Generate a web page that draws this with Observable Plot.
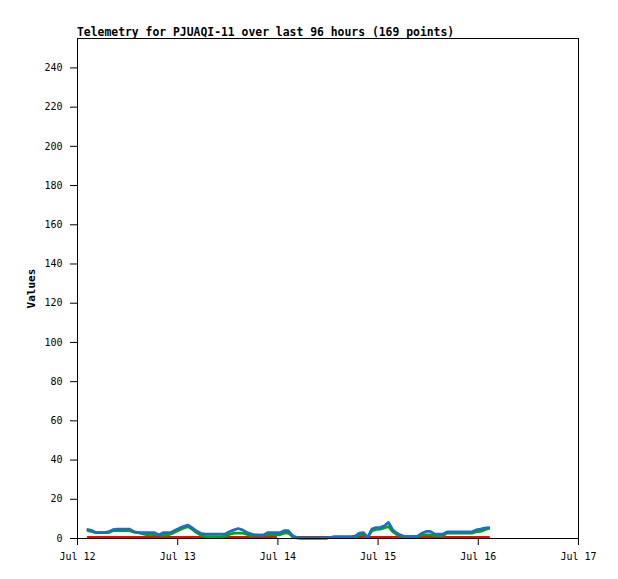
<!DOCTYPE html>
<html><head><meta charset="utf-8">
<script src="https://cdn.jsdelivr.net/npm/d3@7"></script>
<script src="https://cdn.jsdelivr.net/npm/@observablehq/plot@0.6"></script>
<style>
body{margin:0;background:#fff;}
#wrap{position:relative;width:618px;height:579px;}
#title{position:absolute;left:77px;top:27px;font:bold 11.4px "DejaVu Sans Mono",monospace;line-height:1;white-space:pre;color:#000;}
</style></head><body><div id="wrap"><div id="title">Telemetry for PJUAQI-11 over last 96 hours (169 points)</div></div>
<script>
// hourly samples starting Jul 12 02:30
const startUTC = Date.UTC(2024, 6, 12, 2, 30);
const blueValues = [4.6,4.0,3.0,3.0,3.0,3.5,4.5,4.8,4.8,4.8,4.8,3.5,3.0,3.0,3.0,3.0,3.0,1.8,3.0,3.0,
  3.2,4.4,5.3,6.2,6.8,5.4,3.8,2.7,2.2,2.2,2.2,2.2,2.2,2.4,3.6,4.4,5.1,4.4,3.2,2.4,
  1.8,1.7,1.7,3.0,3.0,3.0,3.0,4.0,4.0,1.5,0.4,0.2,0.2,0.2,0.2,0.2,0.2,0.2,0.5,1.0,
  1.0,1.0,1.0,1.0,1.2,2.7,3.0,0.6,4.8,5.6,5.6,6.5,8.2,4.5,2.7,1.7,1.0,1.0,1.0,1.2,
  2.7,3.6,3.6,2.3,2.2,2.2,3.4,3.4,3.4,3.4,3.4,3.4,3.4,4.4,4.8,5.3,5.6];
const greenValues = [4.0,3.5,3.0,3.0,3.0,3.0,4.0,4.0,4.0,4.0,4.0,3.2,3.0,2.5,2.0,2.0,2.0,1.8,1.7,1.7,
  2.4,3.4,4.4,5.4,6.0,4.6,3.0,1.8,1.0,1.0,1.0,1.0,1.0,1.2,2.2,2.7,2.8,2.7,2.2,1.4,
  1.7,1.7,1.7,1.9,1.9,1.9,1.9,2.7,2.7,1.0,0.3,0.2,0.2,0.2,0.2,0.2,0.2,0.2,0.5,0.6,
  0.6,0.6,0.6,0.6,0.6,2.0,2.0,0.6,3.8,4.6,4.8,5.4,6.1,3.5,2.0,1.2,1.0,1.0,1.0,1.0,
  1.9,1.9,1.9,1.4,1.4,1.4,2.7,2.7,2.7,2.7,2.7,2.7,2.7,3.4,3.6,4.4,5.1];
const redValues = [0.6,0.6,0.6,0.6,0.6,0.6,0.6,0.6,0.6,0.6,0.6,0.6,0.6,0.6,0.6,0.6,0.6,0.6,0.6,0.6,
  0.6,0.6,0.6,0.6,0.6,0.6,0.6,0.6,0.6,0.6,0.6,0.6,0.6,0.6,0.6,0.6,0.6,0.6,0.6,0.6,
  0.6,0.6,0.6,0.6,0.6,0.6,null,null,null,0.6,0.6,0.6,0.6,0.6,0.6,0.6,0.6,0.6,0.6,0.6,
  0.6,0.6,0.6,0.6,0.6,0.6,0.6,0.6,0.6,0.6,0.6,0.6,0.6,0.6,0.6,0.6,0.6,0.6,0.6,0.6,
  0.6,0.6,0.6,0.6,0.6,0.6,0.6,0.6,0.6,0.6,0.6,0.6,0.6,0.6,0.6,0.6,0.6];
const xTickDates = ["2024-07-12","2024-07-13","2024-07-14","2024-07-15","2024-07-16","2024-07-17"];
const xTickLabels = ["Jul 12","Jul 13","Jul 14","Jul 15","Jul 16","Jul 17"];
const yTicks = [0,20,40,60,80,100,120,140,160,180,200,220,240];

const toRows = vals => vals.map((v, i) => ({t: new Date(startUTC + i * 3600e3), v}));
const xTicks = xTickDates.map(s => new Date(s + "T00:00:00Z"));
const labelOf = d => xTickLabels[xTicks.findIndex(t => +t === +d)];

const chart = Plot.plot({
  width: 618, height: 579,
  marginLeft: 77, marginRight: 40, marginTop: 38, marginBottom: 41,
  style: {fontFamily: "'DejaVu Sans Mono', monospace", fontSize: "10px", background: "white", color: "black"},
  x: {type: "utc", domain: [xTicks[0], xTicks[xTicks.length - 1]]},
  y: {domain: [0, 255]},
  marks: [
    Plot.lineY(toRows(redValues), {x: "t", y: "v", stroke: "#ff0000", strokeWidth: 2.5}),
    Plot.lineY(toRows(greenValues), {x: "t", y: "v", stroke: "#00a800", strokeWidth: 2.7}),
    Plot.lineY(toRows(blueValues), {x: "t", y: "v", stroke: "#1a6ec8", strokeWidth: 2.7}),
    Plot.frame({stroke: "black"}),
    Plot.axisX({ticks: xTicks, tickFormat: labelOf, tickSize: 7, tickPadding: 7, label: null}),
    Plot.axisY({ticks: yTicks, tickSize: 7, tickPadding: 8, label: null}),
    Plot.text(["Values"], {frameAnchor: "left", textAnchor: "middle", dx: -46, rotate: -90, fontWeight: "bold", fontSize: 11})
  ]
});
document.getElementById("wrap").prepend(chart);
chart.style.position = "absolute"; chart.style.left = "0"; chart.style.top = "0";
</script>
</body></html>
